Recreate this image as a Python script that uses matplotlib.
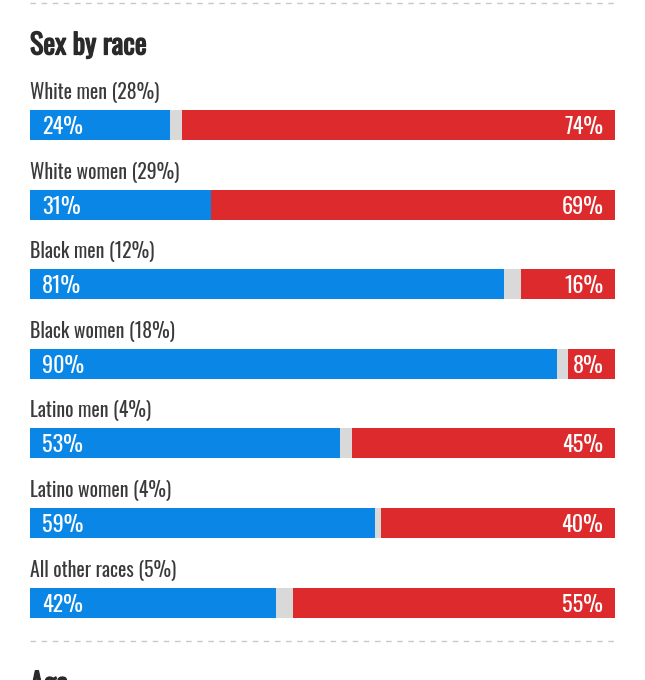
import matplotlib
matplotlib.use('Agg')
import matplotlib.pyplot as plt
import matplotlib.patheffects as pe

plt.rcParams['font.family'] = ['Oswald', 'Roboto Condensed', 'DejaVu Sans']

groups = ['White men (28%)', 'White women (29%)', 'Black men (12%)', 'Black women (18%)',
          'Latino men (4%)', 'Latino women (4%)', 'All other races (5%)']
dem = [24, 31, 81, 90, 53, 59, 42]
rep = [74, 69, 16, 8, 45, 40, 55]

blue = '#0a87e6'
red = '#dd2a2c'
gray = '#d9d9d9'

fig = plt.figure(figsize=(6.45, 6.8), dpi=100)
ax = fig.add_axes([30/645, 0, 585/645, 1])
ax.set_xlim(0, 100)
ax.set_ylim(680, 0)
ax.axis('off')

# pixel rows of the bars (top edge), spacing ~79.6
top0, step, bh = 110, 79.6, 30
for i, g in enumerate(groups):
    t = top0 + i * step
    c = t + bh / 2
    d, r = dem[i], rep[i]
    ax.barh(c, 100, height=bh, left=0, color=gray)
    ax.barh(c, d, height=bh, left=0, color=blue)
    ax.barh(c, r, height=bh, left=100 - r, color=red)
    ax.text(0, t - 17.5, g, fontsize=14.2, color='#3a3a3a', va='center', ha='left')
    ax.text(2.0, c + 2, f'{d}%', fontsize=16, color='white', va='center', ha='left')
    ax.text(98.0, c + 2, f'{r}%', fontsize=16, color='white', va='center', ha='right')

# fake bold: only the regular weight of the font is installed
bold = [pe.withStroke(linewidth=0.9, foreground='#2a2a2a')]
ax.text(0, 45, 'Sex by race', fontsize=20.3, color='#2a2a2a', va='center', ha='left',
        path_effects=bold)
ax.text(0, 684, 'Age', fontsize=20.3, color='#2a2a2a', va='center', ha='left',
        clip_on=False, path_effects=bold)

for y in (3, 641):
    ax.plot([0, 100], [y, y], color='#c8c8c8', lw=1, ls=(0, (4, 4)))

fig.savefig('out.png', dpi=100)
